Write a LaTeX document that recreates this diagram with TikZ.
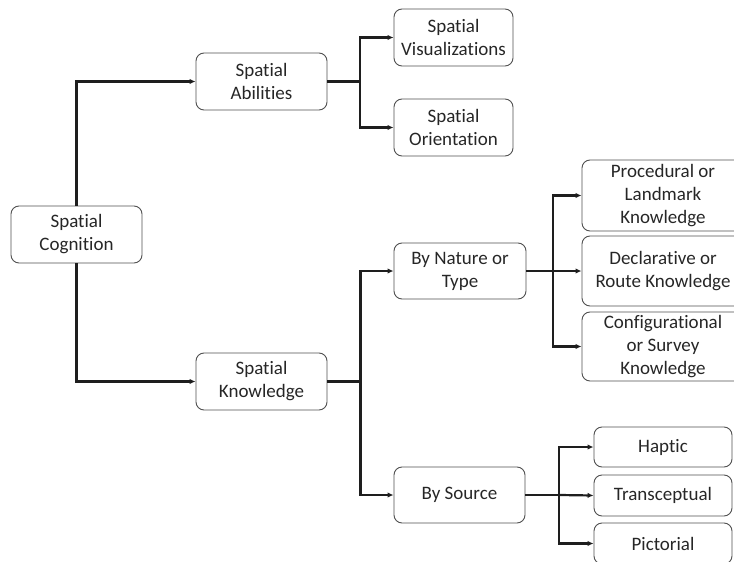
\documentclass[tikz,border=0pt]{standalone}
\usepackage{fontspec}
\setmainfont[RawFeature={-liga}]{Carlito}
\usetikzlibrary{arrows.meta}
\definecolor{linec}{HTML}{1E1E1E}
\definecolor{boxc}{HTML}{505050}
\definecolor{textc}{HTML}{262626}
\begin{document}
\begin{tikzpicture}[x=1pt,y=-1pt,
  box/.style={draw=boxc,line width=0.9pt,rounded corners=8pt,inner sep=0pt,
    align=center,text=textc,font=\fontsize{19}{23}\selectfont},
  arr/.style={draw=linec,line width=2.2pt,-{Latex[length=6pt,width=5.5pt]}},
  ln/.style={draw=linec,line width=2.2pt}]
\useasboundingbox (0,0) rectangle (734,562);
\clip (0,0) rectangle (734,562);
% tree nodes
\node[box,minimum width=131pt,minimum height=57pt] (cog) at (76.5,234.5) {Spatial\\Cognition};
\node[box,minimum width=131pt,minimum height=57pt] (abil) at (261.5,81.5) {Spatial\\Abilities};
\node[box,minimum width=119pt,minimum height=57pt] (vis) at (453.5,37.5) {Spatial\\Visualizations};
\node[box,minimum width=119pt,minimum height=57pt] (ori) at (453.5,127.5) {Spatial\\Orientation};
\node[box,minimum width=131pt,minimum height=57pt] (know) at (261.5,381.5) {Spatial\\Knowledge};
\node[box,minimum width=132pt,minimum height=56pt] (nat) at (460,271) {By Nature or\\Type};
\node[box,minimum width=162pt,minimum height=71pt] (proc) at (663,195.5) {Procedural or\\Landmark\\Knowledge};
\node[box,minimum width=162pt,minimum height=70pt] (decl) at (663,271) {Declarative or\\Route Knowledge};
\node[box,minimum width=162pt,minimum height=69pt] (conf) at (663,346.5) {Configurational\\or Survey\\Knowledge};
\node[box,minimum width=131pt,minimum height=56pt] (src) at (459.5,495) {By Source};
\node[box,minimum width=138pt,minimum height=40pt] (hap) at (663,447) {Haptic};
\node[box,minimum width=138pt,minimum height=41pt] (trans) at (663,495.5) {Transceptual};
\node[box,minimum width=138pt,minimum height=41pt] (pict) at (663,543.5) {Pictorial};
% branch points
\coordinate (b1) at (360,81.5);
\coordinate (b2) at (360.5,381.5);
\coordinate (b3) at (552.7,271);
\coordinate (b4) at (559.3,495);
% connectors
\draw[arr] (cog.north) |- (abil.west);
\draw[arr] (cog.south) |- (know.west);
\draw[ln] (abil.east) -- (b1);
\draw[arr] (b1) |- (vis.west);
\draw[arr] (b1) |- (ori.west);
\draw[ln] (know.east) -- (b2);
\draw[arr] (b2) |- (nat.west);
\draw[arr] (b2) |- (src.west);
\draw[ln] (nat.east) -- (b3);
\draw[arr] (b3) |- (proc.west);
\draw[arr] (b3) -- (decl.west);
\draw[arr] (b3) |- (conf.west);
\draw[ln] (src.east) -- (b4);
\draw[arr] (b4) |- (hap.west);
\draw[arr] (b4) -- (trans.west);
\draw[arr] (b4) |- (pict.west);
\end{tikzpicture}
\end{document}
